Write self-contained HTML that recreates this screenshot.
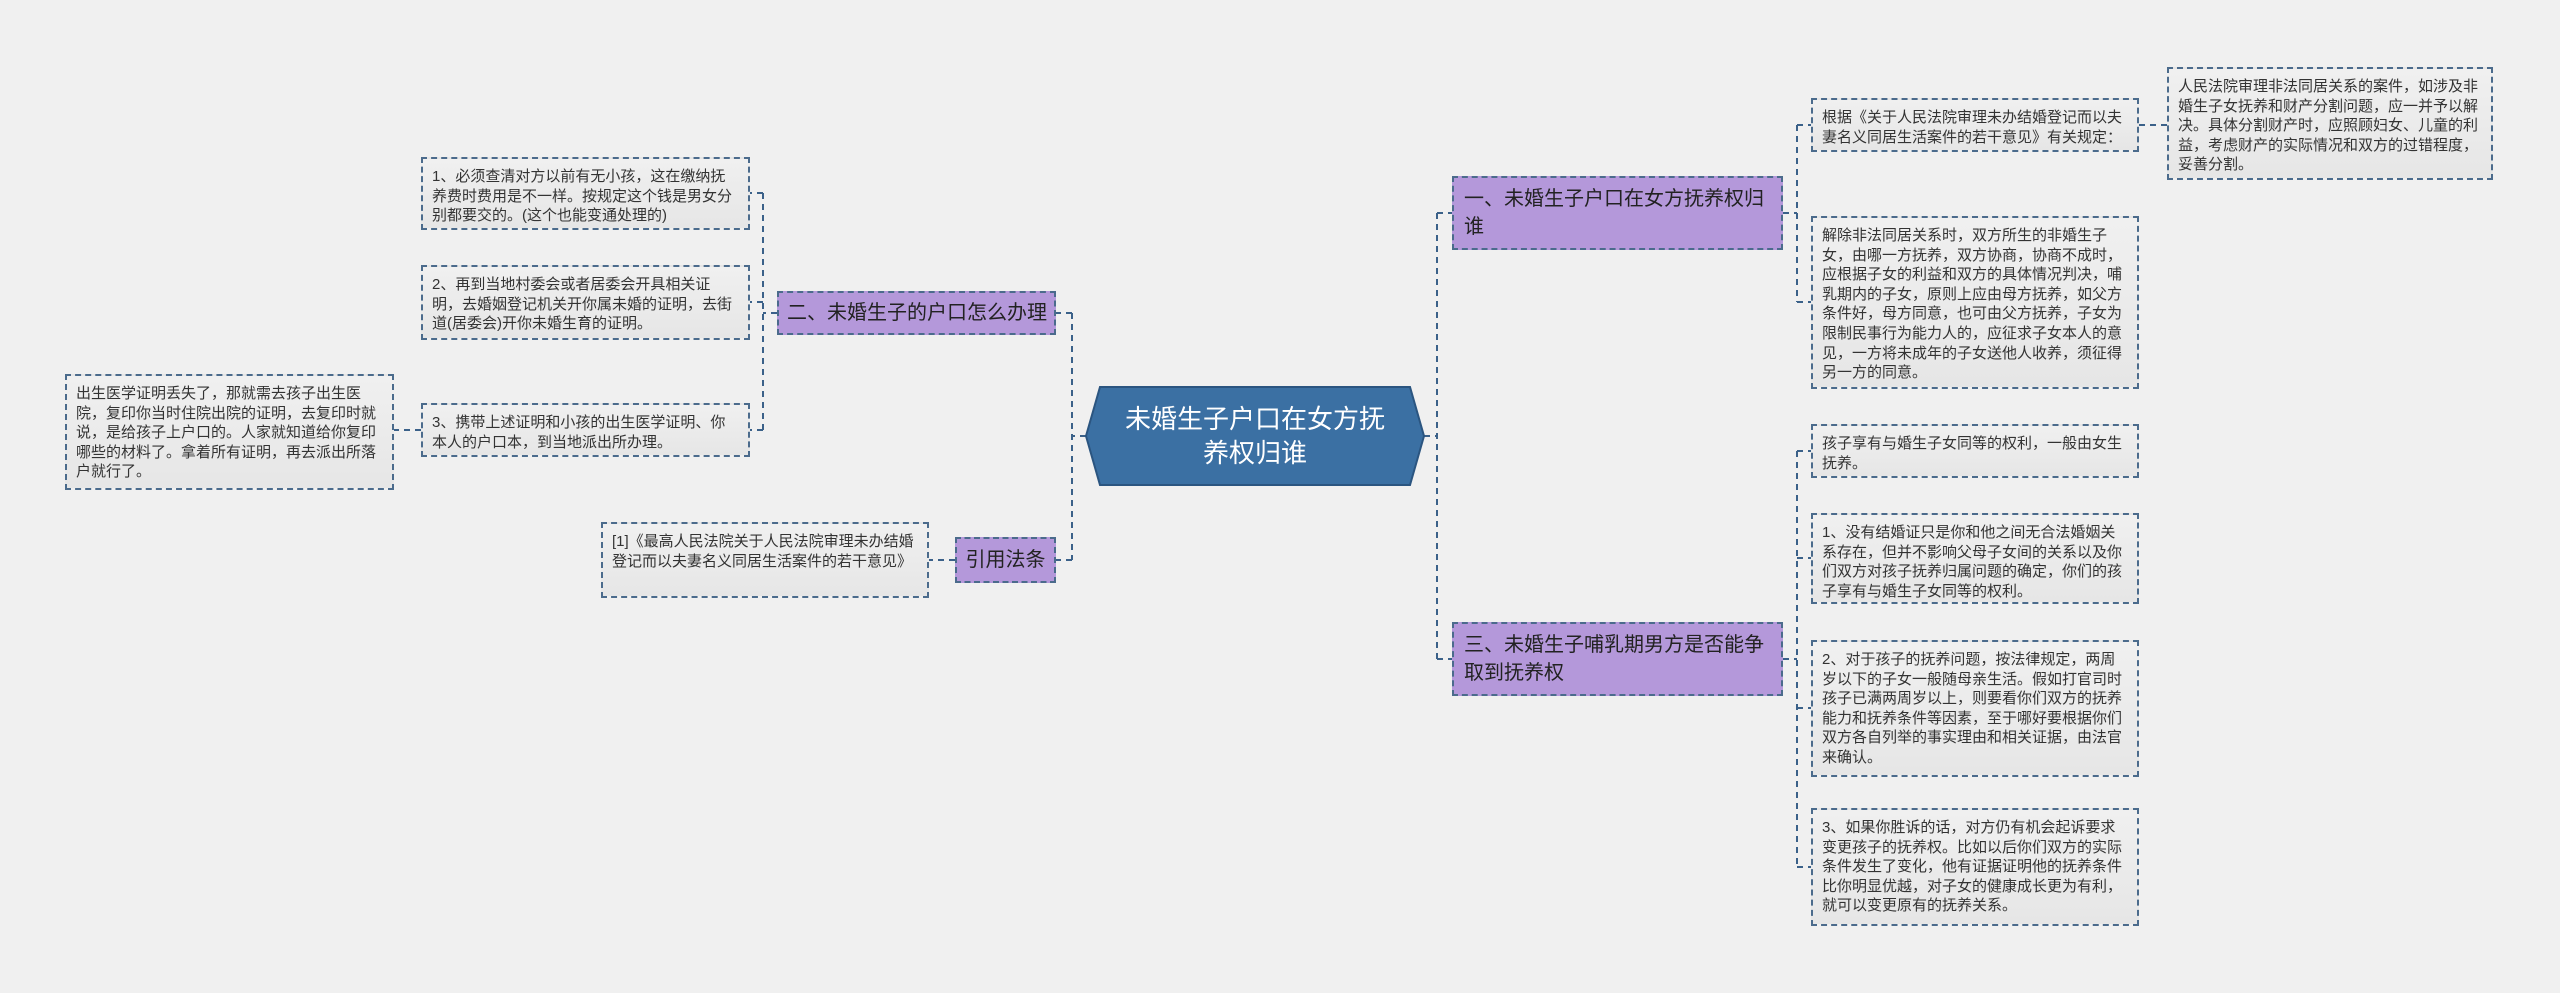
<!DOCTYPE html>
<html><head><meta charset="utf-8"><style>
body{margin:0;width:2560px;height:993px;background:#f0f0f0;position:relative;overflow:hidden;font-family:"Liberation Sans","Noto Sans CJK SC",sans-serif}
.b{position:absolute;box-sizing:border-box}
.leaf{background:linear-gradient(#f0f0f0,#e6e6e6);border:2px dashed #4b6b8c;color:#333;font-size:15px;line-height:19.6px;padding:8px 8px 6px 9px}
.br{background:#b498da;border:2px dashed #4b6b8c;color:#222;font-size:20px;line-height:28px;padding:8px 10px;display:flex;align-items:center}
.nw{white-space:nowrap;padding:0 8px}
svg{position:absolute;left:0;top:0}
</style></head><body>
<svg width="2560" height="993"><g stroke="#3b6189" stroke-width="2" stroke-dasharray="6,5" fill="none">
<path d="M1424 436H1437M1437 213V659M1437 213H1452M1437 659H1452"/>
<path d="M1086 436H1072M1072 313V560M1072 313H1056M1072 560H1056"/>
<path d="M1783 213H1797M1797 125V302M1797 125H1811M1797 302H1811M2139 125H2167"/>
<path d="M1783 659H1797M1797 451V867M1797 451H1811M1797 558H1811M1797 708H1811M1797 867H1811"/>
<path d="M777 313H763M763 193V430M763 193H750M763 302H750M763 430H750M421 430H394"/>
<path d="M955 560H929"/>
</g>
<polygon points="1100,387 1410,387 1424,436 1410,485 1100,485 1086,436" fill="#3b70a3" stroke="#2b5580" stroke-width="2"/>
</svg>
<div class="b" style="left:1086px;top:387px;width:338px;height:98px;display:flex;align-items:center;justify-content:center;text-align:center;color:#fff;font-size:26px;line-height:34px;padding:0 30px">未婚生子户口在女方抚养权归谁</div>
<div class="b br" style="left:1452px;top:176px;width:331px;height:74px">一、未婚生子户口在女方抚养权归谁</div>
<div class="b br" style="left:1452px;top:622px;width:331px;height:74px">三、未婚生子哺乳期男方是否能争取到抚养权</div>
<div class="b br nw" style="left:777px;top:291px;width:279px;height:44px">二、未婚生子的户口怎么办理</div>
<div class="b br nw" style="left:955px;top:537px;width:101px;height:46px;justify-content:center">引用法条</div>
<div class="b leaf" style="left:1811px;top:98px;width:328px;height:54px">根据《关于人民法院审理未办结婚登记而以夫妻名义同居生活案件的若干意见》有关规定：</div>
<div class="b leaf" style="left:2167px;top:67px;width:326px;height:113px">人民法院审理非法同居关系的案件，如涉及非婚生子女抚养和财产分割问题，应一并予以解决。具体分割财产时，应照顾妇女、儿童的利益，考虑财产的实际情况和双方的过错程度，妥善分割。</div>
<div class="b leaf" style="left:1811px;top:216px;width:328px;height:173px">解除非法同居关系时，双方所生的非婚生子女，由哪一方抚养，双方协商，协商不成时，应根据子女的利益和双方的具体情况判决，哺乳期内的子女，原则上应由母方抚养，如父方条件好，母方同意，也可由父方抚养，子女为限制民事行为能力人的，应征求子女本人的意见，一方将未成年的子女送他人收养，须征得另一方的同意。</div>
<div class="b leaf" style="left:1811px;top:424px;width:328px;height:54px">孩子享有与婚生子女同等的权利，一般由女生抚养。</div>
<div class="b leaf" style="left:1811px;top:513px;width:328px;height:91px">1、没有结婚证只是你和他之间无合法婚姻关系存在，但并不影响父母子女间的关系以及你们双方对孩子抚养归属问题的确定，你们的孩子享有与婚生子女同等的权利。</div>
<div class="b leaf" style="left:1811px;top:640px;width:328px;height:137px">2、对于孩子的抚养问题，按法律规定，两周岁以下的子女一般随母亲生活。假如打官司时孩子已满两周岁以上，则要看你们双方的抚养能力和抚养条件等因素，至于哪好要根据你们双方各自列举的事实理由和相关证据，由法官来确认。</div>
<div class="b leaf" style="left:1811px;top:808px;width:328px;height:118px">3、如果你胜诉的话，对方仍有机会起诉要求变更孩子的抚养权。比如以后你们双方的实际条件发生了变化，他有证据证明他的抚养条件比你明显优越，对子女的健康成长更为有利，就可以变更原有的抚养关系。</div>
<div class="b leaf" style="left:421px;top:157px;width:329px;height:73px">1、必须查清对方以前有无小孩，这在缴纳抚养费时费用是不一样。按规定这个钱是男女分别都要交的。(这个也能变通处理的)</div>
<div class="b leaf" style="left:421px;top:265px;width:329px;height:75px">2、再到当地村委会或者居委会开具相关证明，去婚姻登记机关开你属未婚的证明，去街道(居委会)开你未婚生育的证明。</div>
<div class="b leaf" style="left:421px;top:403px;width:329px;height:54px">3、携带上述证明和小孩的出生医学证明、你本人的户口本，到当地派出所办理。</div>
<div class="b leaf" style="left:65px;top:374px;width:329px;height:116px">出生医学证明丢失了，那就需去孩子出生医院，复印你当时住院出院的证明，去复印时就说，是给孩子上户口的。人家就知道给你复印哪些的材料了。拿着所有证明，再去派出所落户就行了。</div>
<div class="b leaf" style="left:601px;top:522px;width:328px;height:76px">[1]《最高人民法院关于人民法院审理未办结婚登记而以夫妻名义同居生活案件的若干意见》</div>
</body></html>
